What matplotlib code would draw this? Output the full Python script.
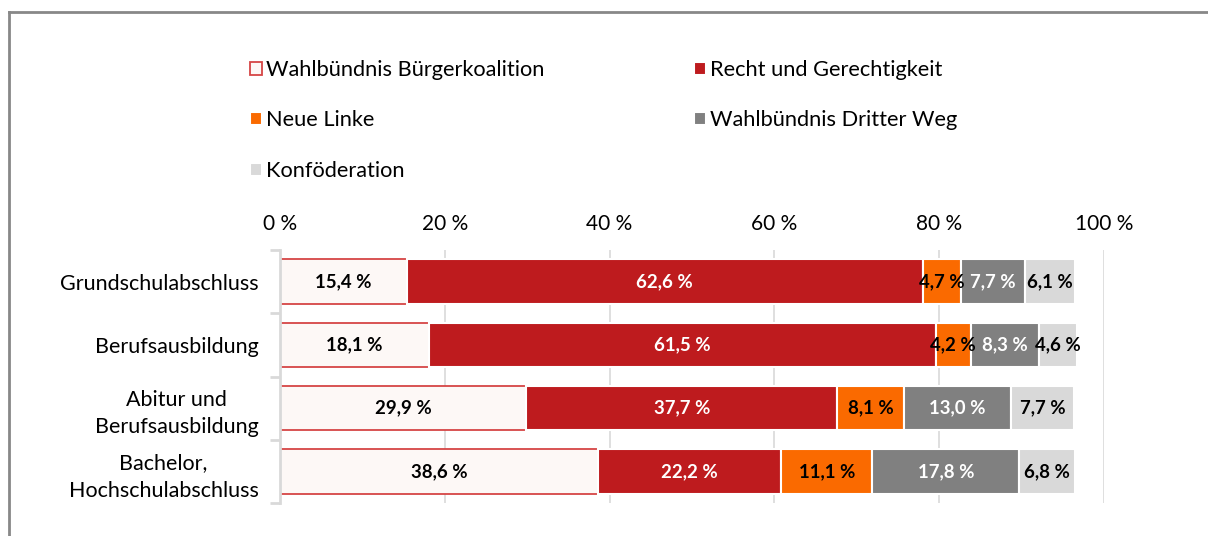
import matplotlib.pyplot as plt
import numpy as np
from matplotlib.lines import Line2D

plt.rcParams['font.family'] = ['Lato', 'DejaVu Sans']

# Daten
kategorien = ['Grundschulabschluss', 'Berufsausbildung', 'Abitur und\nBerufsausbildung',
              'Bachelor,\nHochschulabschluss']
parteien = ['Wahlbündnis Bürgerkoalition', 'Recht und Gerechtigkeit', 'Neue Linke',
            'Wahlbündnis Dritter Weg', 'Konföderation']
buergerkoalition = [15.4, 18.1, 29.9, 38.6]
pis = [62.6, 61.5, 37.7, 22.2]
neue_linke = [4.7, 4.2, 8.1, 11.1]
dritter_weg = [7.7, 8.3, 13.0, 17.8]
konfederation = [6.1, 4.6, 7.7, 6.8]
x_ticks = [0, 20, 40, 60, 80, 100]

werte = [buergerkoalition, pis, neue_linke, dritter_weg, konfederation]
farben = ['#FDF8F6', '#BE1B1E', '#FA6A00', '#808080', '#D9D9D9']
kanten = ['#D64545', 'white', 'white', 'white', 'white']
textfarben = ['black', 'white', 'black', 'white', 'black']

fig = plt.figure(figsize=(12.08, 5.36), dpi=100)
ax = fig.add_axes([280 / 1208, 1 - 503 / 536, 824 / 1208, 253 / 536])

y = np.arange(len(kategorien))
links = np.zeros(len(kategorien))
handles = []
for i, (name, vals) in enumerate(zip(parteien, werte)):
    bars = ax.barh(y, vals, left=links, height=0.7, color=farben[i],
                   edgecolor=kanten[i], linewidth=1.3 if i == 0 else 1.5,
                   label=name, zorder=3)
    handles.append(bars)
    for b, v in zip(bars, vals):
        ax.text(b.get_x() + b.get_width() / 2, b.get_y() + b.get_height() / 2,
                f'{v:.1f} %'.replace('.', ','), ha='center', va='center',
                fontsize=13.4, fontweight='bold', color=textfarben[i], zorder=4)
    links += np.array(vals)

ax.set_xlim(0, 100)
ax.set_ylim(3.5, -0.5)
ax.set_xticks(x_ticks)
ax.set_xticklabels([f'{t} %' for t in x_ticks], fontsize=15)
ax.xaxis.tick_top()
ax.tick_params(axis='x', length=0, pad=11.5)
ax.grid(axis='x', color='#D9D9D9', linewidth=1.2, zorder=0)

ax.set_yticks(y)
ax.set_yticklabels(kategorien, fontsize=15.5, multialignment='center', linespacing=1.45)
ax.set_yticks(np.arange(-0.5, 4.0, 1.0), minor=True)
ax.tick_params(axis='y', which='major', length=0, pad=15.5)
ax.tick_params(axis='y', which='minor', length=7, width=2, color='#D9D9D9')

for s in ['top', 'right', 'bottom']:
    ax.spines[s].set_visible(False)
ax.spines['left'].set_color('#D9D9D9')
ax.spines['left'].set_linewidth(2)
ax.spines['left'].set_zorder(5)

# Legende zeilenweise (2 Spalten)
reihenfolge = [0, 2, 4, 1, 3]
fig.legend([handles[k] for k in reihenfolge], [parteien[k] for k in reihenfolge],
           loc='upper left', bbox_to_anchor=(239 / 1208, 1 - 49 / 536), ncol=2,
           frameon=False, fontsize=15.7, handlelength=0.55, handleheight=0.55,
           handletextpad=0.2, labelspacing=1.4, columnspacing=6.85, borderpad=0)

# Rahmen
fig.add_artist(Line2D([9 / 1208, 9 / 1208], [0, 1 - 12 / 536], color='#888888', linewidth=2,
                      transform=fig.transFigure))
fig.add_artist(Line2D([9 / 1208, 1], [1 - 12 / 536, 1 - 12 / 536], color='#888888', linewidth=2,
                      transform=fig.transFigure))

fig.savefig('out.png', dpi=100)
